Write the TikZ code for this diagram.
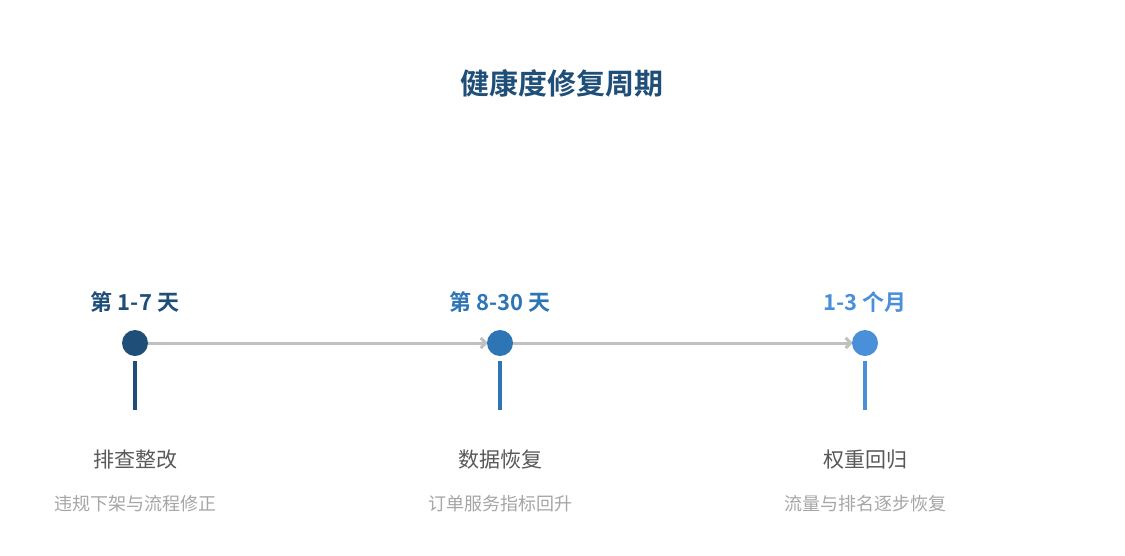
\documentclass[tikz,border=0pt]{standalone}
\usepackage{fontspec}
\setmainfont{Noto Sans CJK SC}
\newfontfamily\cjkb{Noto Sans CJK SC Bold}
\usetikzlibrary{arrows.meta}
\definecolor{cA}{HTML}{1F4E79}
\definecolor{cB}{HTML}{2E75B6}
\definecolor{cC}{HTML}{4A90D9}
\definecolor{tmain}{HTML}{595959}
\definecolor{tsub}{HTML}{A6A6A6}
\definecolor{conn}{HTML}{C0C0C0}
\tikzset{
  dot/.style={circle,inner sep=0pt,minimum size=26pt},
  phase/.style={font=\cjkb\fontsize{22}{26}\selectfont,inner sep=0pt},
  maintext/.style={font=\fontsize{21}{25}\selectfont,text=tmain,inner sep=0pt},
  subtext/.style={font=\fontsize{18}{22}\selectfont,text=tsub,inner sep=0pt},
  stem/.style={line width=3.5pt},
  flow/.style={draw=conn,line width=3pt,-{Straight Barb[length=5pt,width=10pt]}},
}
\begin{document}
\begin{tikzpicture}[x=1pt,y=-1pt]
\useasboundingbox[fill=white] (0,0) rectangle (1125,555);
\node[font=\cjkb\fontsize{29}{34}\selectfont,text=cA,inner sep=0pt] (title) at (562,83) {健康度修复周期};

\node[dot] (d1) at (135,343) {};
\node[dot] (d2) at (500,343) {};
\node[dot] (d3) at (865,343) {};
\draw[flow] (d1.east) -- ([xshift=1pt]d2.west);
\draw[flow] (d2.east) -- ([xshift=1pt]d3.west);
\fill[cA] (d1) circle (13pt);
\fill[cB] (d2) circle (13pt);
\fill[cC] (d3) circle (13pt);

\coordinate (s1a) at (135,361); \coordinate (s1b) at (135,410);
\coordinate (s2a) at (500,361); \coordinate (s2b) at (500,410);
\coordinate (s3a) at (865,361); \coordinate (s3b) at (865,410);
\draw[stem,cA] (s1a) -- (s1b);
\draw[stem,cB] (s2a) -- (s2b);
\draw[stem,cC] (s3a) -- (s3b);

\node[phase,text=cA] (p1) at (135,302) {第 1-7 天};
\node[phase,text=cB] (p2) at (500,302) {第 8-30 天};
\node[phase,text=cC] (p3) at (865,302) {1-3 个月};

\node[maintext] (m1) at (135,460) {排查整改};
\node[maintext] (m2) at (500,460) {数据恢复};
\node[maintext] (m3) at (865,460) {权重回归};

\node[subtext] (t1) at (135,504) {违规下架与流程修正};
\node[subtext] (t2) at (500,504) {订单服务指标回升};
\node[subtext] (t3) at (865,504) {流量与排名逐步恢复};
\end{tikzpicture}
\end{document}
